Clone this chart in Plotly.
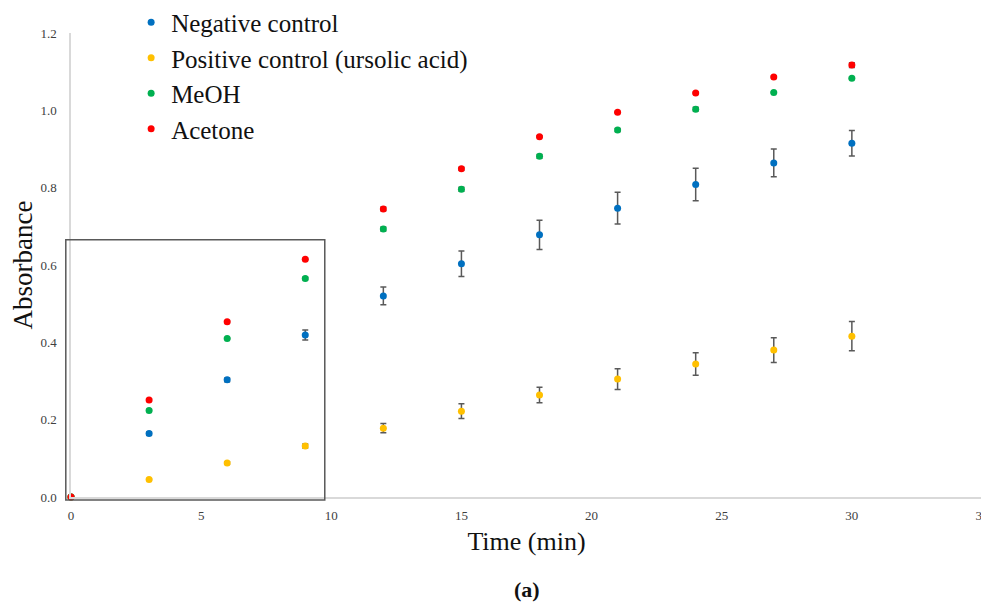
import plotly.graph_objects as go

time = [0, 3, 6, 9, 12, 15, 18, 21, 24, 27, 30]

neg = [0.0, 0.164, 0.303, 0.419, 0.520, 0.603, 0.678, 0.747, 0.808, 0.864, 0.915]
neg_err = [0.0, 0.004, 0.005, 0.013, 0.023, 0.033, 0.038, 0.041, 0.042, 0.036, 0.033]

pos = [0.0, 0.045, 0.088, 0.132, 0.178, 0.222, 0.264, 0.305, 0.344, 0.380, 0.416]
pos_err = [0.0, 0.002, 0.003, 0.005, 0.012, 0.019, 0.020, 0.027, 0.029, 0.032, 0.038]

meoh = [0.0, 0.224, 0.410, 0.565, 0.693, 0.796, 0.881, 0.949, 1.003, 1.046, 1.083]
meoh_err = [0.0, 0.002, 0.002, 0.003, 0.005, 0.005, 0.005, 0.004, 0.005, 0.002, 0.002]

acet = [0.0, 0.251, 0.453, 0.615, 0.745, 0.849, 0.932, 0.995, 1.045, 1.086, 1.117]
acet_err = [0.0, 0.002, 0.002, 0.002, 0.005, 0.004, 0.002, 0.002, 0.002, 0.002, 0.006]

names = ["Negative control", "Positive control (ursolic acid)", "MeOH", "Acetone"]
colors = ["#0070C0", "#FFC000", "#00B050", "#FF0000"]
series = [neg, pos, meoh, acet]
errors = [neg_err, pos_err, meoh_err, acet_err]

X_MAX = 35
Y_MAX = 1.2

fig = go.Figure()
for nm, col, ys, es in zip(names, colors, series, errors):
    fig.add_trace(go.Scatter(
        x=time, y=ys, mode="markers", name=nm,
        marker=dict(color=col, size=7),
        error_y=dict(type="data", array=es, visible=True, color="#595959",
                     thickness=1.5, width=3),
        cliponaxis=False,
    ))

# highlight box around the first minutes (paper coords so it isn't clipped)
fig.add_shape(type="rect", xref="paper", yref="paper",
              x0=-0.2 / X_MAX, x1=9.75 / X_MAX, y0=-0.008 / Y_MAX, y1=0.665 / Y_MAX,
              line=dict(color="#595959", width=1.5), fillcolor="rgba(0,0,0,0)", layer="above")

serif = "Liberation Serif"
fig.update_layout(
    width=981, height=595,
    margin=dict(l=63, r=7, t=25, b=106, autoexpand=False),
    plot_bgcolor="white", paper_bgcolor="white",
    font=dict(family=serif, color="#222222"),
    showlegend=True,
    legend=dict(x=0.066, y=1.072, xanchor="left", yanchor="top",
                font=dict(family=serif, size=25, color="#111111"),
                bgcolor="rgba(0,0,0,0)", itemwidth=30, tracegroupgap=0),
    xaxis=dict(range=[0, X_MAX], tickvals=[0, 5, 10, 15, 20, 25, 30, 35],
               showline=True, linecolor="#d9d9d9", linewidth=1.5,
               showgrid=False, zeroline=False, automargin=False,
               ticklabeloverflow="allow",
               ticks="outside", ticklen=6, tickcolor="rgba(0,0,0,0)",
               tickfont=dict(family=serif, size=13, color="#404040"),
               title=dict(text="Time (min)", font=dict(family=serif, size=26, color="#111111"),
                          standoff=9)),
    yaxis=dict(range=[0, Y_MAX], tickvals=[0, 0.2, 0.4, 0.6, 0.8, 1.0, 1.2], tickformat=".1f",
               showline=True, linecolor="#d9d9d9", linewidth=1.5,
               showgrid=False, zeroline=False, automargin=False,
               ticklabeloverflow="allow",
               ticks="outside", ticklen=10, tickcolor="rgba(0,0,0,0)",
               tickfont=dict(family=serif, size=13, color="#404040"),
               title=dict(text="Absorbance", font=dict(family=serif, size=27, color="#111111"),
                          standoff=4)),
    annotations=[dict(text="<b>(a)</b>", x=0.5, y=-0.2, xref="paper", yref="paper",
                      xanchor="center", yanchor="middle", showarrow=False,
                      font=dict(family=serif, size=22, color="#111111"))],
)

fig.write_html("out.html")
